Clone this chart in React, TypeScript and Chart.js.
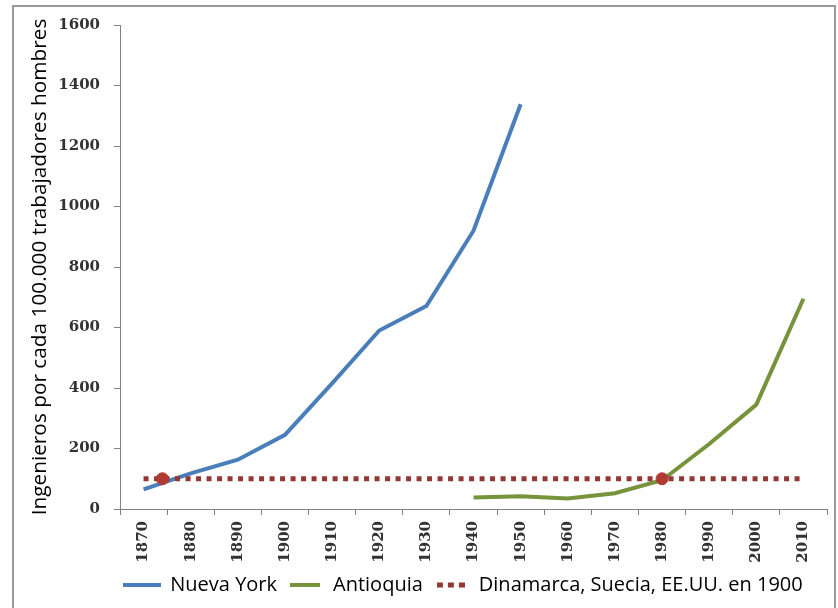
import React, { useEffect, useRef } from "react";
import { Chart, registerables } from "chart.js";

Chart.register(...registerables);

const years = [1870, 1880, 1890, 1900, 1910, 1920, 1930, 1940, 1950, 1960, 1970, 1980, 1990, 2000, 2010];
const nuevaYork = [65, 118, 163, 245, 415, 590, 671, 920, 1338, null, null, null, null, null, null];
const antioquia = [null, null, null, null, null, null, null, 38, 42, 35, 52, 95, 215, 345, 695];
const referencia1900 = [100, 100, 100, 100, 100, 100, 100, 100, 100, 100, 100, 100, 100, 100, 100];
const crucesX = [1874, 1980];
const crucesY = [100, 100];
const yTicks = [0, 200, 400, 600, 800, 1000, 1200, 1400, 1600];

const seriesNames = ["Nueva York", "Antioquia", "Dinamarca, Suecia, EE.UU. en 1900"];
const yTitle = "Ingenieros por cada 100.000 trabajadores hombres";

const BLUE = "#4A7EBB";
const GREEN = "#77933C";
const DOTRED = "#943634";

const W = 838;
const H = 608;

function makeSwatch(kind: "solid" | "dots", color: string, len: number): HTMLCanvasElement {
  const c = document.createElement("canvas");
  c.width = len;
  c.height = 6;
  const ctx = c.getContext("2d")!;
  ctx.fillStyle = color;
  if (kind === "solid") {
    ctx.fillRect(0, 1, len, 4);
  } else {
    for (let x = 0; x + 5 <= len; x += 11) ctx.fillRect(x, 0.5, 6, 5);
  }
  return c;
}

const legendShift = {
  id: "legendShift",
  afterLayout(chart: any) {
    const lg = chart.legend;
    if (lg) {
      lg.left -= 10;
      lg.right -= 10;
    }
  },
};

export default function App() {
  const ref = useRef<HTMLCanvasElement | null>(null);

  useEffect(() => {
    const canvas = ref.current;
    if (!canvas) return;
    const swatches = [makeSwatch("solid", BLUE, 38), makeSwatch("solid", GREEN, 30), makeSwatch("dots", DOTRED, 28)];
    const toXY = (vals: (number | null)[]) => years.map((yr, i) => ({ x: yr, y: vals[i] }));
    const chart = new Chart(canvas, {
      type: "line",
      data: {
        datasets: [
          {
            label: seriesNames[0],
            data: toXY(nuevaYork),
            borderColor: BLUE,
            backgroundColor: BLUE,
            borderWidth: 4,
            pointRadius: 0,
            tension: 0,
            order: 2,
          },
          {
            label: seriesNames[1],
            data: toXY(antioquia),
            borderColor: GREEN,
            backgroundColor: GREEN,
            borderWidth: 4,
            pointRadius: 0,
            tension: 0,
            order: 2,
          },
          {
            label: seriesNames[2],
            data: toXY(referencia1900),
            borderColor: DOTRED,
            backgroundColor: DOTRED,
            borderWidth: 5,
            borderDash: [5, 5.5],
            pointRadius: 0,
            order: 1,
          },
          {
            label: "cruces",
            data: crucesX.map((x, i) => ({ x, y: crucesY[i] })),
            showLine: false,
            pointRadius: 6,
            pointBackgroundColor: "#B23A32",
            pointBorderColor: "#B23A32",
            order: 0,
          },
        ],
      },
      options: {
        animation: false,
        responsive: false,
        maintainAspectRatio: false,
        layout: { padding: { top: 25, right: 11, bottom: 3, left: 0 } },
        plugins: {
          tooltip: { enabled: false },
          legend: {
            position: "bottom",
            fullSize: false,
            labels: {
              usePointStyle: true,
              pointStyleWidth: 36,
              color: "#000",
              padding: 10,
              font: { family: "'Open Sans'", size: 20 },
              generateLabels: (ch) =>
                ch.data.datasets.slice(0, 3).map((ds, i) => ({
                  text: ds.label as string,
                  datasetIndex: i,
                  pointStyle: swatches[i],
                  fillStyle: "transparent",
                  strokeStyle: "transparent",
                  lineWidth: 0,
                  hidden: false,
                  fontColor: "#000",
                })),
            },
          },
        },
        scales: {
          x: {
            type: "linear",
            min: 1865,
            max: 2015,
            afterBuildTicks: (scale) => {
              scale.ticks = years.map((v) => ({ value: v }));
            },
            afterFit: (scale) => {
              scale.height = 56;
            },
            grid: {
              display: true,
              drawOnChartArea: false,
              drawTicks: true,
              tickLength: 6,
              offset: true,
              color: "#808080",
            },
            border: { display: true, color: "#808080", width: 1 },
            ticks: {
              minRotation: 90,
              maxRotation: 90,
              autoSkip: false,
              padding: 6,
              color: "#333",
              font: { family: "'DejaVu Serif'", size: 15, weight: "bold" },
              callback: (v) => String(v),
            },
          },
          y: {
            type: "linear",
            min: 0,
            max: 1600,
            afterBuildTicks: (scale) => {
              scale.ticks = yTicks.map((v) => ({ value: v }));
            },
            afterFit: (scale) => {
              scale.width = 120;
            },
            grid: {
              display: true,
              drawOnChartArea: false,
              drawTicks: true,
              tickLength: 6,
              color: "#808080",
            },
            border: { display: true, color: "#808080", width: 1 },
            ticks: {
              padding: 14,
              color: "#333",
              font: { family: "'DejaVu Serif'", size: 15, weight: "bold" },
              callback: (v) => String(v),
            },
            title: {
              display: true,
              text: yTitle,
              color: "#000",
              padding: { top: 28, bottom: 0 },
              font: { family: "'Open Sans'", size: 20.8 },
            },
          },
        },
      },
      plugins: [legendShift],
    });
    return () => chart.destroy();
  }, []);

  return (
    <div style={{ position: "fixed", left: 0, top: 0, width: W, height: H, background: "#fff", overflow: "hidden" }}>
      <div
        style={{
          position: "absolute",
          left: 12,
          top: 5,
          width: 836 - 12,
          height: H + 20,
          border: "2px solid #9a9a9a",
          boxSizing: "border-box",
        }}
      />
      <canvas ref={ref} width={W} height={H} style={{ position: "absolute", left: 0, top: 0, width: W, height: H }} />
    </div>
  );
}
